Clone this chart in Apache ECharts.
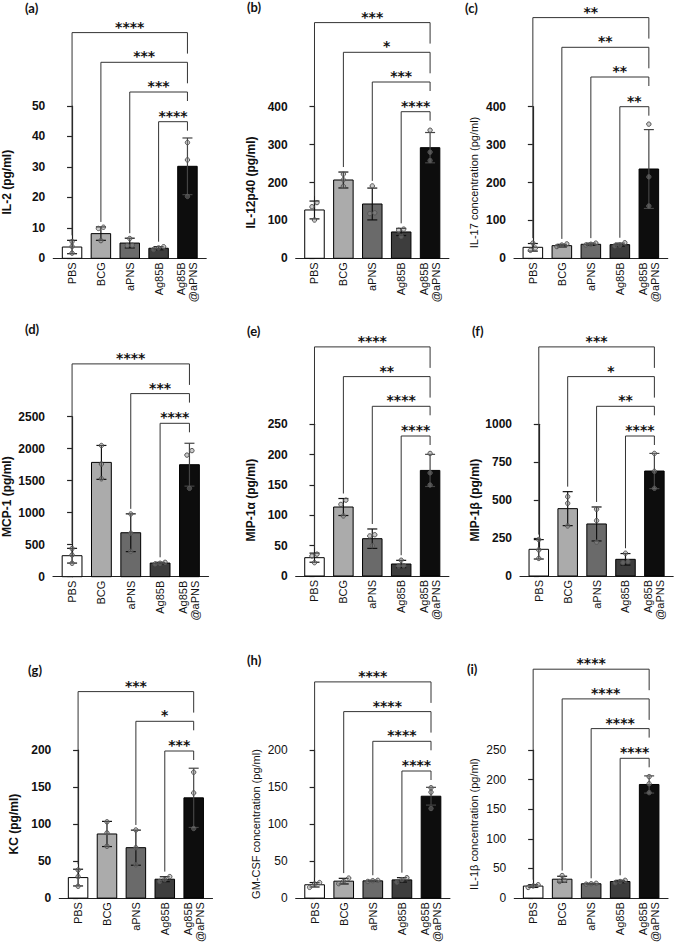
<!DOCTYPE html>
<html><head><meta charset="utf-8">
<script src="https://cdn.jsdelivr.net/npm/echarts@6/dist/echarts.min.js"></script>
<style>html,body{margin:0;padding:0;background:#fff}#c{width:677px;height:945px}</style>
</head><body><div id="c"></div>
<script>
// ---------- DATA ----------
const categories = ['PBS', 'BCG', 'aPNS', 'Ag85B', 'Ag85B@aPNS'];

const il2Title = 'IL-2 (pg/ml)';
const il2Ticks = [0, 10, 20, 30, 40, 50];
const il2Mean = [3.7, 8.1, 5.0, 3.3, 30.2];
const il2Sd = [2.2, 2.2, 1.6, 0.5, 9.3];
const il2Dots = [[5.5, 3.9, 1.7], [10.2, 9.8, 5.8], [6.5, 4.3, 4.2], [3.8, 3.4, 2.9], [38.0, 32.3, 20.3]];
const il2Sig = [['PBS', '****'], ['BCG', '***'], ['aPNS', '***'], ['Ag85B', '****']];

const il12Title = 'IL-12p40 (pg/ml)';
const il12Ticks = [0, 100, 200, 300, 400];
const il12Mean = [127.5, 206.6, 143.3, 69.5, 291.9];
const il12Sd = [23.5, 21, 42, 9.5, 40];
const il12Dots = [[147, 136, 101], [222, 207, 190], [191, 120, 118], [77, 74, 58], [338, 280, 258]];
const il12Sig = [['PBS', '***'], ['BCG', '*'], ['aPNS', '***'], ['Ag85B', '****']];

const il17Title = 'IL-17 concentration (pg/ml)';
const il17Ticks = [0, 100, 200, 300, 400];
const il17Mean = [29, 33.4, 37, 36, 235.6];
const il17Sd = [10, 3.5, 3, 4, 104];
const il17Dots = [[40, 27, 21], [38, 35, 31], [40, 37, 35], [41, 35, 33], [354, 215, 138]];
const il17Sig = [['PBS', '**'], ['BCG', '**'], ['aPNS', '**'], ['Ag85B', '**']];

const mcpTitle = 'MCP-1 (pg/ml)';
const mcpTicks = [0, 500, 1000, 1500, 2000, 2500];
const mcpMean = [328, 1786, 687, 213, 1750];
const mcpSd = [115, 265, 295, 12, 335];
const mcpDots = [[440, 340, 210], [2050, 1760, 1530], [980, 680, 395], [225, 210, 200], [1970, 1900, 1380]];
const mcpSig = [['PBS', '****'], ['aPNS', '***'], ['Ag85B', '****']];

const mip1aTitle = 'MIP-1α (pg/ml)';
const mip1aTicks = [0, 50, 100, 150, 200, 250];
const mip1aMean = [30.2, 113.7, 61.5, 19.8, 174];
const mip1aSd = [7.5, 14, 16, 6, 26.5];
const mip1aDots = [[36, 33, 22], [125, 118, 99], [68, 66, 50], [26, 17, 16.5], [202, 170, 150]];
const mip1aSig = [['PBS', '****'], ['BCG', '**'], ['aPNS', '****'], ['Ag85B', '****']];

const mip1bTitle = 'MIP-1β (pg/ml)';
const mip1bTicks = [0, 250, 500, 750, 1000];
const mip1bMean = [176, 444, 343, 110, 692];
const mip1bSd = [64, 112, 112, 38, 116];
const mip1bDots = [[240, 172, 116], [523, 479, 330], [440, 365, 223], [150, 95, 88], [808, 690, 578]];
const mip1bSig = [['PBS', '***'], ['BCG', '*'], ['aPNS', '**'], ['Ag85B', '****']];

const kcTitle = 'KC (pg/ml)';
const kcTicks = [0, 50, 100, 150, 200];
const kcMean = [27.7, 86.6, 68.1, 25.5, 135.4];
const kcSd = [11.3, 17, 23.7, 3.3, 40];
const kcDots = [[38, 29, 16], [103, 88, 70], [92, 68, 45], [29, 25, 22.5], [170, 142, 94]];
const kcSig = [['PBS', '***'], ['aPNS', '*'], ['Ag85B', '***']];

const gmTitle = 'GM-CSF concentration (pg/ml)';
const gmTicks = [0, 50, 100, 150, 200];
const gmMean = [18, 22.9, 23.3, 24.6, 137.6];
const gmSd = [3, 3.8, 0.8, 3, 12];
const gmDots = [[21, 19, 14.5], [27, 23, 19.5], [24, 23.5, 22.5], [27.5, 25, 21.5], [149, 143, 121]];
const gmSig = [['PBS', '****'], ['BCG', '****'], ['aPNS', '****'], ['Ag85B', '****']];

const il1bTitle = 'IL-1β concentration (pg/ml)';
const il1bTicks = [0, 50, 100, 150, 200, 250];
const il1bMean = [20.3, 31.9, 24.2, 28, 191.8];
const il1bSd = [2.3, 5, 0.8, 2, 14.5];
const il1bDots = [[22.5, 20.5, 18], [38, 30, 28], [25, 24.3, 23.5], [30, 28, 26], [205, 193, 178]];
const il1bSig = [['PBS', '****'], ['BCG', '****'], ['aPNS', '****'], ['Ag85B', '****']];

const panelLabels = ['(a)', '(b)', '(c)', '(d)', '(e)', '(f)', '(g)', '(h)', '(i)'];

// ---------- PANELS ----------
const PANELS = [
  { title: il2Title, ticks: il2Ticks, mean: il2Mean, sd: il2Sd, dots: il2Dots, sig: il2Sig },
  { title: il12Title, ticks: il12Ticks, mean: il12Mean, sd: il12Sd, dots: il12Dots, sig: il12Sig },
  { title: il17Title, ticks: il17Ticks, mean: il17Mean, sd: il17Sd, dots: il17Dots, sig: il17Sig },
  { title: mcpTitle, ticks: mcpTicks, mean: mcpMean, sd: mcpSd, dots: mcpDots, sig: mcpSig },
  { title: mip1aTitle, ticks: mip1aTicks, mean: mip1aMean, sd: mip1aSd, dots: mip1aDots, sig: mip1aSig },
  { title: mip1bTitle, ticks: mip1bTicks, mean: mip1bMean, sd: mip1bSd, dots: mip1bDots, sig: mip1bSig },
  { title: kcTitle, ticks: kcTicks, mean: kcMean, sd: kcSd, dots: kcDots, sig: kcSig },
  { title: gmTitle, ticks: gmTicks, mean: gmMean, sd: gmSd, dots: gmDots, sig: gmSig },
  { title: il1bTitle, ticks: il1bTicks, mean: il1bMean, sd: il1bSd, dots: il1bDots, sig: il1bSig }
];

// ---------- LAYOUT / STYLE ----------
const LAYOUT = [
  { lx: 25, ly: 8, left: 53.3, top: 106, bottom: 258.3, sp: 28.85, nameGap: 40, br: 15.7, tBold: true, kBold: true, tSize: 12 },
  { lx: 247, ly: 7.5, left: 295.7, top: 106.7, bottom: 258.3, sp: 28.9, nameGap: 39, br: 5, tBold: true, kBold: true, tSize: 12 },
  { lx: 465, ly: 8, left: 514, top: 106.7, bottom: 258.3, sp: 29, nameGap: 34.7, br: 0, tBold: false, kBold: true, tSize: 11 },
  { lx: 25, ly: 329, left: 52.7, top: 416.7, bottom: 576.7, sp: 29.4, nameGap: 40, br: 6.6, tBold: true, kBold: true, tSize: 12 },
  { lx: 247, ly: 331, left: 295.7, top: 424.3, bottom: 576, sp: 28.9, nameGap: 38.4, br: 11.7, tBold: true, kBold: true, tSize: 12 },
  { lx: 472, ly: 331, left: 520, top: 424.3, bottom: 576, sp: 28.9, nameGap: 39.3, br: 11.7, tBold: true, kBold: true, tSize: 12 },
  { lx: 28, ly: 670, left: 59.3, top: 750, bottom: 901.7, sp: 28.9, nameGap: 39.3, br: 1, tBold: true, kBold: true, tSize: 12 },
  { lx: 247, ly: 660, left: 295.7, top: 750, bottom: 901.7, sp: 29.1, nameGap: 34.7, br: 21, tBold: false, kBold: false, tSize: 11 },
  { lx: 467, ly: 669, left: 514.3, top: 750, bottom: 901.7, sp: 29, nameGap: 35.3, br: 8.3, tBold: false, kBold: false, tSize: 11 }
];
const X_MIN = -0.65, X_MAX = 4.65;
const BAR_FILLS = ['#ffffff', '#ababab', '#6a6a6a', '#3d3d3d', '#0d0d0d'];
const AXIS_COLOR = '#222';
const LINE_COLOR = '#333';
const FONT = 'Liberation Sans';
const BR_SP = 29.7;

function catLabel(v) {
  const c = categories[Math.round(v)];
  if (c === undefined) return '';
  return c.replace('@', '\n@');
}

const option = { animation: false, backgroundColor: '#fff', textStyle: { fontFamily: FONT }, grid: [], xAxis: [], yAxis: [], series: [], graphic: [] };

PANELS.forEach((P, pi) => {
  const L = LAYOUT[pi];
  const yMax = P.ticks[P.ticks.length - 1];
  const interval = P.ticks[1] - P.ticks[0];
  const pxPerUnit = (L.bottom - L.top) / yMax;

  option.grid.push({ left: L.left, top: L.top, width: (X_MAX - X_MIN) * L.sp, height: L.bottom - L.top });
  option.xAxis.push({
    type: 'value', gridIndex: pi, min: X_MIN, max: X_MAX,
    axisLine: { show: true, lineStyle: { color: AXIS_COLOR, width: 1.2 } },
    axisTick: { show: false },
    splitLine: { show: false },
    axisLabel: {
      show: true, customValues: [0, 1, 2, 3, 4], formatter: catLabel, rotate: 90,
      fontSize: 11, fontFamily: FONT, color: '#111', margin: 4, lineHeight: 12
    }
  });
  option.yAxis.push({
    type: 'value', gridIndex: pi, min: 0, max: yMax, interval: interval,
    name: P.title, nameLocation: 'middle', nameRotate: 90, nameGap: L.nameGap,
    nameTextStyle: { fontSize: L.tSize, fontWeight: L.tBold ? 'bold' : 'normal', fontFamily: FONT, color: '#111' },
    axisLine: { show: true, lineStyle: { color: AXIS_COLOR, width: 1.2 } },
    axisTick: { show: true, length: 5, lineStyle: { color: AXIS_COLOR, width: 1.2 } },
    splitLine: { show: false },
    axisLabel: { fontSize: 12, fontWeight: L.kBold ? 'bold' : 'normal', fontFamily: FONT, color: '#111', margin: 8,
      formatter: v => String(v) }
  });

  // bars
  option.series.push({
    type: 'custom', xAxisIndex: pi, yAxisIndex: pi, clip: false,
    data: P.mean.map((m, i) => [i, m]),
    renderItem: (params, api) => {
      const i = api.value(0), v = api.value(1);
      const t = api.coord([i, v]), b = api.coord([i, 0]);
      const w = api.size([1, 0])[0] * 0.675;
      return { type: 'rect', shape: { x: t[0] - w / 2, y: t[1], width: w, height: b[1] - t[1] },
        style: { fill: BAR_FILLS[i], stroke: '#000', lineWidth: 1 } };
    }
  });

  // error bars
  option.series.push({
    type: 'custom', xAxisIndex: pi, yAxisIndex: pi, clip: false,
    data: P.mean.map((m, i) => [i, m, P.sd[i]]),
    renderItem: (params, api) => {
      const i = api.value(0), m = api.value(1), s = api.value(2);
      const hi = api.coord([i, m + s]), lo = api.coord([i, Math.max(0, m - s)]);
      const cw = 5;
      const st = { stroke: i === 4 ? '#444' : '#111', lineWidth: 1.2 };
      return { type: 'group', children: [
        { type: 'line', shape: { x1: hi[0], y1: hi[1], x2: lo[0], y2: lo[1] }, style: st },
        { type: 'line', shape: { x1: hi[0] - cw, y1: hi[1], x2: hi[0] + cw, y2: hi[1] }, style: st },
        { type: 'line', shape: { x1: lo[0] - cw, y1: lo[1], x2: lo[0] + cw, y2: lo[1] }, style: st }
      ] };
    }
  });

  // dots (overlapping points spread horizontally, like a scatter dot plot)
  const dotData = [];
  P.dots.forEach((arr, i) => {
    const sorted = arr.map((v, k) => ({ v, k })).sort((a, b) => a.v - b.v);
    let clusters = [], cur = [sorted[0]];
    for (let k = 1; k < sorted.length; k++) {
      if ((sorted[k].v - sorted[k - 1].v) * pxPerUnit < 4.5) cur.push(sorted[k]);
      else { clusters.push(cur); cur = [sorted[k]]; }
    }
    clusters.push(cur);
    clusters.forEach(cl => cl.forEach((d, j) => dotData.push([i, d.v, (j - (cl.length - 1) / 2) * 5])));
  });
  option.series.push({
    type: 'custom', xAxisIndex: pi, yAxisIndex: pi, clip: false,
    data: dotData,
    renderItem: (params, api) => {
      const p = api.coord([api.value(0), api.value(1)]);
      return { type: 'circle', shape: { cx: p[0] + api.value(2), cy: p[1], r: 2.2 },
        style: { fill: 'rgba(140,140,140,0.45)', stroke: '#555', lineWidth: 1 } };
    }
  });

  // significance brackets
  const n = P.sig.length;
  option.series.push({
    type: 'custom', xAxisIndex: pi, yAxisIndex: pi, clip: false,
    data: P.sig.map(s => [categories.indexOf(s[0]), 4]),
    renderItem: (params, api) => {
      const k = params.dataIndex;
      const from = api.value(0), to = api.value(1);
      const x1 = api.coord([from, 0])[0], x2 = api.coord([to, 0])[0];
      const topPx = api.coord([0, yMax])[1];
      const lvl = n - 1 - k;
      const y = topPx + L.br - lvl * BR_SP;
      const gTop = Math.max(P.mean[from] + P.sd[from], ...P.dots[from]);
      const yEnd = api.coord([from, gTop])[1] - 5;
      const rLen = lvl >= 2 ? 21 : 9;
      return { type: 'group', children: [
        { type: 'polyline', shape: { points: [[x1, yEnd], [x1, y], [x2, y], [x2, y + rLen]] },
          style: { stroke: LINE_COLOR, lineWidth: 1, fill: null } },
        { type: 'text', style: { text: P.sig[k][1], x: (x1 + x2) / 2, y: y - 6, align: 'center', verticalAlign: 'middle',
          fontSize: 14, fontWeight: 'bold', fontFamily: 'DejaVu Sans', fill: '#111' } }
      ] };
    }
  });

  option.graphic.push({ type: 'text', left: L.lx, top: L.ly - 7,
    style: { text: panelLabels[pi], fontSize: 13, fontWeight: 'bold', fontFamily: 'Lato', fill: '#111' } });
});

const chart = echarts.init(document.getElementById('c'), null, { renderer: 'svg', width: 677, height: 945 });
chart.setOption(option);
</script>
</body></html>
